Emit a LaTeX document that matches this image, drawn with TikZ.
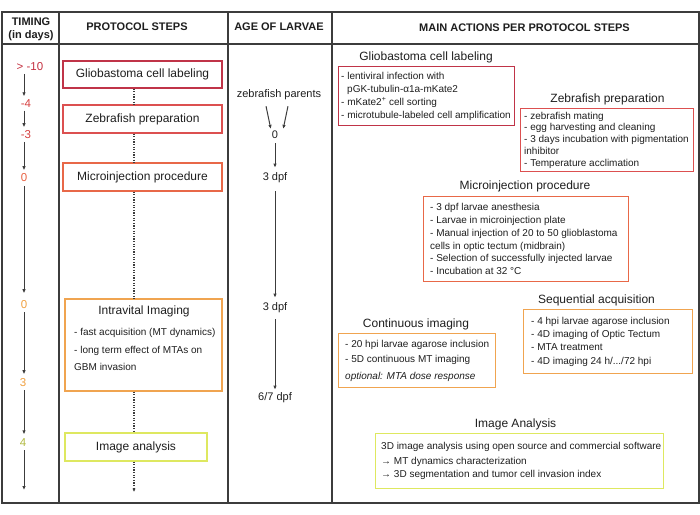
\documentclass[tikz,border=0pt]{standalone}
\usepackage{fontspec}
\setmainfont{Liberation Sans}
\usetikzlibrary{arrows.meta}
\definecolor{framegray}{RGB}{60,60,60}
\definecolor{arrgray}{RGB}{60,60,60}
\definecolor{cA}{RGB}{192,52,72}
\definecolor{cB}{RGB}{220,80,80}
\definecolor{cC}{RGB}{232,104,72}
\definecolor{cD}{RGB}{240,164,80}
\definecolor{cE}{RGB}{222,232,96}
\definecolor{tA}{RGB}{196,48,64}
\definecolor{tB}{RGB}{214,64,64}
\definecolor{tC}{RGB}{232,96,64}
\definecolor{tD}{RGB}{240,160,64}
\definecolor{tE}{RGB}{176,184,64}
\definecolor{txt}{RGB}{30,30,30}
\begin{document}
\begin{tikzpicture}[x=1pt,y=-1pt,
  frm/.style={draw=framegray,line width=1.3pt},
  hdr/.style={font=\fontsize{11}{13}\selectfont\bfseries,align=center,inner sep=0pt,text=txt},
  stepbox/.style={draw,line width=1.2pt,inner sep=0pt,font=\fontsize{12}{14}\selectfont,text=txt},
  tlab/.style={font=\fontsize{11.5}{13}\selectfont,inner sep=1pt},
  alab/.style={font=\fontsize{11}{13}\selectfont,inner sep=1pt,text=txt},
  arr/.style={draw=arrgray,line width=1pt,-{Latex[length=4pt,width=3.5pt]}},
  dotl/.style={draw=arrgray,line width=1.2pt,dash pattern=on 1.2pt off 1.4pt},
  ttl/.style={font=\fontsize{12}{14}\selectfont,inner sep=0pt,text=txt},
  actbox/.style={draw,line width=1.2pt,anchor=north west,inner sep=0pt},
  acttext/.style={anchor=west,align=left,inner sep=0pt,text=txt}
]
\useasboundingbox (0,0) rectangle (700,514);
% table frame
\draw[frm] (2,12) rectangle (699,503);
\draw[frm] (2,44) -- (699,44);
\foreach \x in {59,228,332} \draw[frm] (\x,12) -- (\x,503);
% headers
\node[hdr] (h1) at (31,29) {TIMING\\(in days)};
\node[hdr] (h2) at (137,27) {PROTOCOL STEPS};
\node[hdr] (h3) at (279,27) {AGE OF LARVAE};
\node[hdr] (h4) at (524.5,28) {MAIN ACTIONS PER PROTOCOL STEPS};

% timing column
\coordinate (tx) at (24,0);
\node[tlab,text=tA] (t1) at (30,67) {> -10};
\node[tlab,text=tB] (t2) at (26,104) {-4};
\node[tlab,text=tB] (t3) at (26,135) {-3};
\node[tlab,text=tC] (t4) at (24,178) {0};
\node[tlab,text=tD] (t5) at (24,305) {0};
\node[tlab,text=tD] (t6) at (23,383) {3};
\node[tlab,text=tE] (t7) at (23,443) {4};
\coordinate (tend) at (24,490);
\draw[arr,shorten <=1.5pt,shorten >=2.5pt] (t1.south -| tx) -- (t2.north -| tx);
\draw[arr,shorten <=1.5pt,shorten >=2.5pt] (t2.south -| tx) -- (t3.north -| tx);
\draw[arr,shorten <=1.5pt,shorten >=2.5pt] (t3.south -| tx) -- (t4.north -| tx);
\draw[arr,shorten <=2.5pt,shorten >=6.5pt] (t4.south -| tx) -- (t5.north -| tx);
\draw[arr,shorten <=2pt,shorten >=3.5pt] (t5.south -| tx) -- (t6.north -| tx);
\draw[arr,shorten <=2pt,shorten >=3.5pt] (t6.south -| tx) -- (t7.north -| tx);
\draw[arr,shorten <=2pt] (t7.south -| tx) -- (tend);

% protocol steps
\node[stepbox,draw=cA,minimum width=159pt,minimum height=27pt] (b1) at (142.5,74.5) {Gliobastoma cell labeling};
\node[stepbox,draw=cB,minimum width=159pt,minimum height=28pt] (b2) at (142.5,119) {Zebrafish preparation};
\node[stepbox,draw=cC,minimum width=159pt,minimum height=28pt] (b3) at (142.5,177) {Microinjection procedure};
\node[stepbox,draw=cD,minimum width=157pt,minimum height=92pt] (b4) at (143.5,345) {};
\node[ttl] (b4t) at (144,311) {Intravital Imaging};
\node[acttext,font=\fontsize{10}{17.5}\selectfont] (b4b) at (74,349.5) {- fast acquisition (MT dynamics)\\- long term effect of MTAs on\\GBM invasion};
\node[stepbox,draw=cE,minimum width=142pt,minimum height=28pt] (b5) at (136,447) {Image analysis};
\coordinate (dx) at (134,0);
\coordinate (dend) at (134,492);
\draw[dotl] (b1.south -| dx) -- (b2.north -| dx);
\draw[dotl] (b2.south -| dx) -- (b3.north -| dx);
\draw[dotl] (b3.south -| dx) -- (b4.north -| dx);
\draw[dotl] (b4.south -| dx) -- (b5.north -| dx);
\draw[dotl,-{Latex[length=3.5pt,width=3.5pt]}] (b5.south -| dx) -- (dend);

% age of larvae
\node[alab] (a0) at (279,95) {zebrafish parents};
\node[alab] (a1) at (275,135) {0};
\node[alab] (a2) at (275,178) {3 dpf};
\node[alab] (a3) at (275,308) {3 dpf};
\node[alab] (a4) at (275,398) {6/7 dpf};
\draw[arr,shorten <=5pt,shorten >=1pt] ([xshift=-14pt]a0.south) -- ([xshift=-4pt]a1.north);
\draw[arr,shorten <=5pt,shorten >=1pt] ([xshift=10pt]a0.south) -- ([xshift=8pt]a1.north);
\draw[arr,shorten <=3pt,shorten >=4pt] (a1) -- (a2);
\draw[arr,shorten <=7pt,shorten >=4pt] (a2.south) -- (a3.north);
\draw[arr,shorten <=5pt,shorten >=2pt] (a3.south) -- (a4.north);

% main actions
\node[ttl] (m1t) at (426,57) {Gliobastoma cell labeling};
\node[actbox,draw=cA,minimum width=176pt,minimum height=59pt] (m1) at (338,66) {};
\node[acttext,font=\fontsize{10}{13}\selectfont] (m1x) at ([xshift=3pt]m1.west) {- lentiviral infection with\\\hspace*{6pt}pGK-tubulin-α1a-mKate2\\- mKate2\textsuperscript{+} cell sorting\\- microtubule-labeled cell amplification};

\node[ttl] (m2t) at (607.5,99) {Zebrafish preparation};
\node[actbox,draw=cB,minimum width=173pt,minimum height=63pt] (m2) at (520,108) {};
\node[acttext,font=\fontsize{10}{11.8}\selectfont] (m2x) at ([xshift=4pt]m2.west) {- zebrafish mating\\- egg harvesting and cleaning\\- 3 days incubation with pigmentation\\inhibitor\\- Temperature acclimation};

\node[ttl] (m3t) at (525,186) {Microinjection procedure};
\node[actbox,draw=cC,minimum width=205pt,minimum height=85pt] (m3) at (423,196) {};
\node[acttext,font=\fontsize{10}{12.8}\selectfont] (m3x) at ([xshift=7pt]m3.west) {- 3 dpf larvae anesthesia\\- Larvae in microinjection plate\\- Manual injection of 20 to 50 glioblastoma\\cells in optic tectum (midbrain)\\- Selection of successfully injected larvae\\- Incubation at 32 °C};

\node[ttl] (m4t) at (596.5,300) {Sequential acquisition};
\node[actbox,draw=cD,minimum width=169pt,minimum height=64pt] (m4) at (523,309) {};
\node[acttext,font=\fontsize{10}{13.3}\selectfont] (m4x) at ([xshift=8pt]m4.west) {- 4 hpi larvae agarose inclusion\\- 4D imaging of Optic Tectum\\- MTA treatment\\- 4D imaging 24 h/.../72 hpi};

\node[ttl] (m5t) at (416,324) {Continuous imaging};
\node[actbox,draw=cD,minimum width=157pt,minimum height=54pt] (m5) at (338,333) {};
\node[acttext,font=\fontsize{10}{15}\selectfont] (m5x) at ([xshift=7pt]m5.west) {- 20 hpi larvae agarose inclusion\\- 5D continuous MT imaging\\[2pt]\textit{optional: MTA dose response}};

\node[ttl] (m6t) at (515.5,424) {Image Analysis};
\node[actbox,draw=cE,minimum width=288pt,minimum height=55pt] (m6) at (375,433) {};
\node[acttext,font=\fontsize{10}{12.5}\selectfont] (m6x) at ([xshift=6pt]m6.west) {3D image analysis using open source and commercial software\\[2.5pt]→ MT dynamics characterization\\→ 3D segmentation and tumor cell invasion index};
\end{tikzpicture}
\end{document}
